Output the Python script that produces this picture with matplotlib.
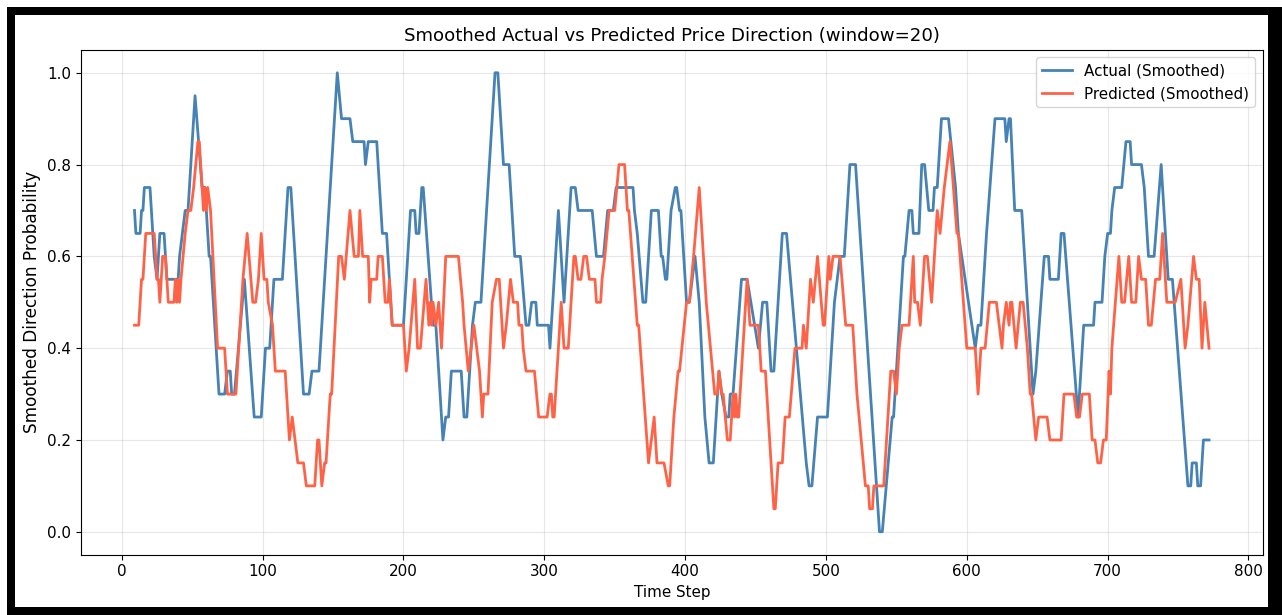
import matplotlib.pyplot as plt
from matplotlib.patches import Rectangle

# breakpoints of the smoothed (rolling window=20) series
actual_t = [9, 10, 13, 14, 15, 16, 20, 23, 25, 27, 30, 32, 40, 41, 43, 45, 47, 52, 57, 59,
            62, 63, 69, 73, 75, 77, 78, 80, 87, 94, 99, 102, 105, 108, 114, 118, 120, 129, 133, 135,
            140, 153, 156, 162, 164, 172, 173, 175, 181, 183, 185, 188, 190, 192, 200, 205, 208, 209, 211, 213,
            214, 221, 223, 228, 230, 232, 234, 241, 243, 245, 249, 251, 255, 265, 267, 271, 275, 279, 283, 287,
            289, 291, 294, 295, 303, 304, 310, 314, 319, 322, 324, 334, 337, 342, 345, 349, 351, 363, 364, 366,
            370, 372, 376, 381, 383, 384, 386, 387, 390, 393, 394, 396, 397, 401, 403, 407, 410, 414, 417, 420,
            424, 426, 429, 431, 432, 434, 440, 444, 452, 455, 458, 461, 463, 469, 472, 486, 488, 490, 494, 501,
            506, 508, 510, 513, 517, 521, 538, 540, 547, 548, 551, 555, 556, 559, 561, 562, 566, 568, 570, 573,
            576, 577, 579, 581, 582, 587, 592, 594, 606, 608, 610, 611, 614, 620, 627, 628, 630, 631, 634, 639,
            647, 649, 655, 658, 659, 665, 667, 669, 679, 681, 683, 690, 691, 696, 698, 700, 702, 703, 705, 710,
            713, 716, 717, 724, 726, 729, 733, 738, 742, 743, 746, 757, 759, 760, 763, 764, 766, 768, 772]
actual_v = [0.70, 0.65, 0.65, 0.70, 0.70, 0.75, 0.75, 0.60, 0.55, 0.65, 0.65, 0.55, 0.55, 0.60, 0.65, 0.70, 0.70, 0.95, 0.75, 0.75,
            0.60, 0.60, 0.30, 0.30, 0.35, 0.35, 0.30, 0.30, 0.55, 0.25, 0.25, 0.40, 0.40, 0.55, 0.55, 0.75, 0.75, 0.30, 0.30, 0.35,
            0.35, 1.00, 0.90, 0.90, 0.85, 0.85, 0.80, 0.85, 0.85, 0.75, 0.65, 0.65, 0.55, 0.45, 0.45, 0.70, 0.70, 0.65, 0.65, 0.75,
            0.75, 0.45, 0.45, 0.20, 0.25, 0.25, 0.35, 0.35, 0.25, 0.25, 0.45, 0.50, 0.50, 1.00, 1.00, 0.80, 0.80, 0.60, 0.60, 0.45,
            0.45, 0.50, 0.50, 0.45, 0.45, 0.40, 0.70, 0.50, 0.75, 0.75, 0.70, 0.70, 0.60, 0.60, 0.70, 0.70, 0.75, 0.75, 0.70, 0.65,
            0.50, 0.50, 0.70, 0.70, 0.60, 0.60, 0.55, 0.55, 0.70, 0.75, 0.75, 0.70, 0.70, 0.50, 0.50, 0.60, 0.50, 0.25, 0.15, 0.15,
            0.35, 0.30, 0.25, 0.25, 0.30, 0.30, 0.55, 0.55, 0.40, 0.50, 0.50, 0.35, 0.35, 0.65, 0.65, 0.15, 0.10, 0.10, 0.25, 0.25,
            0.50, 0.55, 0.60, 0.60, 0.80, 0.80, 0.00, 0.00, 0.25, 0.25, 0.40, 0.60, 0.60, 0.70, 0.70, 0.65, 0.65, 0.80, 0.80, 0.70,
            0.70, 0.75, 0.75, 0.85, 0.90, 0.90, 0.75, 0.65, 0.40, 0.45, 0.45, 0.50, 0.65, 0.90, 0.90, 0.85, 0.90, 0.90, 0.70, 0.70,
            0.30, 0.35, 0.60, 0.60, 0.55, 0.55, 0.65, 0.65, 0.25, 0.35, 0.45, 0.45, 0.50, 0.50, 0.60, 0.65, 0.65, 0.70, 0.75, 0.75,
            0.85, 0.85, 0.80, 0.80, 0.75, 0.60, 0.60, 0.80, 0.60, 0.55, 0.55, 0.10, 0.10, 0.15, 0.15, 0.10, 0.10, 0.20, 0.20]

pred_t = [9, 12, 14, 15, 17, 23, 25, 26, 27, 29, 31, 33, 37, 38, 39, 40, 41, 42, 45, 47,
          49, 51, 54, 55, 58, 59, 60, 61, 63, 68, 73, 75, 81, 86, 89, 93, 95, 97, 99, 101,
          103, 104, 107, 109, 116, 117, 119, 121, 123, 125, 129, 131, 137, 139, 140, 142, 144, 145, 148, 149,
          154, 156, 158, 162, 165, 168, 169, 171, 175, 176, 177, 181, 182, 185, 187, 189, 190, 192, 200, 202,
          204, 208, 210, 212, 216, 218, 219, 220, 221, 223, 225, 227, 230, 239, 242, 243, 246, 250, 252, 254,
          256, 257, 260, 263, 266, 268, 271, 273, 276, 278, 281, 282, 284, 285, 287, 293, 296, 302, 304, 305,
          306, 307, 312, 314, 317, 321, 322, 324, 326, 328, 330, 332, 336, 337, 340, 341, 343, 346, 350, 353,
          357, 359, 360, 366, 367, 374, 376, 378, 380, 385, 388, 389, 392, 395, 396, 401, 403, 406, 410, 413,
          415, 421, 423, 424, 426, 427, 430, 432, 434, 435, 436, 437, 438, 444, 446, 452, 454, 457, 463, 464,
          466, 469, 471, 474, 478, 483, 484, 486, 489, 491, 494, 498, 499, 502, 503, 505, 510, 514, 519, 522,
          528, 530, 531, 533, 534, 541, 546, 548, 550, 552, 554, 559, 562, 563, 565, 567, 570, 572, 575, 579,
          581, 584, 588, 593, 594, 600, 606, 607, 608, 610, 613, 616, 621, 623, 625, 626, 628, 630, 631, 632,
          635, 638, 640, 643, 645, 646, 649, 651, 657, 659, 667, 669, 676, 678, 680, 682, 687, 689, 691, 693,
          695, 697, 699, 701, 702, 703, 708, 710, 712, 715, 717, 720, 722, 724, 727, 729, 731, 734, 737, 739,
          742, 748, 752, 754, 755, 757, 761, 763, 765, 767, 769, 772]
pred_v = [0.45, 0.45, 0.55, 0.55, 0.65, 0.65, 0.55, 0.55, 0.50, 0.60, 0.60, 0.50, 0.50, 0.55, 0.50, 0.55, 0.50, 0.55, 0.65, 0.70,
          0.70, 0.75, 0.85, 0.85, 0.70, 0.75, 0.70, 0.75, 0.70, 0.40, 0.40, 0.30, 0.30, 0.55, 0.65, 0.50, 0.50, 0.55, 0.65, 0.55,
          0.55, 0.50, 0.45, 0.35, 0.35, 0.30, 0.20, 0.25, 0.20, 0.15, 0.15, 0.10, 0.10, 0.20, 0.20, 0.10, 0.15, 0.15, 0.30, 0.30,
          0.60, 0.60, 0.55, 0.70, 0.60, 0.60, 0.70, 0.60, 0.60, 0.50, 0.55, 0.55, 0.60, 0.60, 0.50, 0.50, 0.55, 0.45, 0.45, 0.35,
          0.40, 0.55, 0.40, 0.40, 0.55, 0.45, 0.50, 0.45, 0.50, 0.45, 0.50, 0.40, 0.60, 0.60, 0.50, 0.45, 0.35, 0.45, 0.40, 0.35,
          0.25, 0.30, 0.30, 0.50, 0.55, 0.55, 0.40, 0.45, 0.55, 0.50, 0.50, 0.45, 0.45, 0.40, 0.35, 0.35, 0.25, 0.25, 0.30, 0.30,
          0.25, 0.25, 0.50, 0.40, 0.40, 0.60, 0.60, 0.55, 0.55, 0.60, 0.60, 0.55, 0.55, 0.50, 0.50, 0.55, 0.60, 0.70, 0.70, 0.80,
          0.80, 0.70, 0.70, 0.45, 0.45, 0.15, 0.20, 0.25, 0.15, 0.15, 0.10, 0.10, 0.25, 0.35, 0.35, 0.50, 0.50, 0.60, 0.75, 0.60,
          0.50, 0.30, 0.30, 0.35, 0.30, 0.30, 0.20, 0.20, 0.30, 0.25, 0.30, 0.25, 0.25, 0.55, 0.45, 0.45, 0.35, 0.35, 0.05, 0.05,
          0.15, 0.15, 0.25, 0.25, 0.40, 0.40, 0.45, 0.40, 0.55, 0.50, 0.60, 0.45, 0.45, 0.60, 0.55, 0.60, 0.60, 0.45, 0.45, 0.30,
          0.10, 0.10, 0.05, 0.05, 0.10, 0.10, 0.35, 0.35, 0.30, 0.40, 0.45, 0.45, 0.60, 0.50, 0.50, 0.45, 0.60, 0.60, 0.50, 0.70,
          0.65, 0.75, 0.85, 0.65, 0.65, 0.40, 0.40, 0.35, 0.30, 0.40, 0.40, 0.50, 0.50, 0.45, 0.40, 0.45, 0.50, 0.45, 0.50, 0.50,
          0.40, 0.50, 0.50, 0.40, 0.30, 0.30, 0.20, 0.25, 0.25, 0.20, 0.20, 0.30, 0.30, 0.25, 0.25, 0.30, 0.30, 0.20, 0.20, 0.15,
          0.15, 0.20, 0.20, 0.35, 0.30, 0.40, 0.60, 0.50, 0.50, 0.60, 0.50, 0.50, 0.60, 0.55, 0.55, 0.45, 0.45, 0.55, 0.55, 0.65,
          0.50, 0.50, 0.55, 0.45, 0.40, 0.45, 0.60, 0.55, 0.55, 0.40, 0.50, 0.40]

fig = plt.figure(figsize=(12.82, 6.15), dpi=100)
ax = fig.add_axes([0.063, 0.098, 0.922, 0.821])

ax.plot(actual_t, actual_v, color="#4682B4", linewidth=2, label="Actual (Smoothed)")
ax.plot(pred_t, pred_v, color="tomato", linewidth=2, label="Predicted (Smoothed)")

ax.set_title("Smoothed Actual vs Predicted Price Direction (window=20)", fontsize=13.1)
ax.set_xlabel("Time Step", fontsize=10.9)
ax.set_ylabel("Smoothed Direction Probability", fontsize=12.2)
ax.tick_params(labelsize=10.9)
ax.grid(True, alpha=0.3)
ax.legend(loc="upper right", fontsize=10.9)

# black screenshot frame around the figure (pixel boxes: x0, y0 from top, w, h)
W, H = 1282, 615
for x0, y0, w, h in [(7, 7, W - 7, 8), (7, 7, 8, H - 7), (1268, 7, 14, H - 7), (7, 607, W - 7, 8)]:
    fig.add_artist(Rectangle((x0 / W, (H - y0 - h) / H), w / W, h / H,
                             transform=fig.transFigure, facecolor="black",
                             edgecolor="none"))

fig.savefig("out.png", dpi=100)
